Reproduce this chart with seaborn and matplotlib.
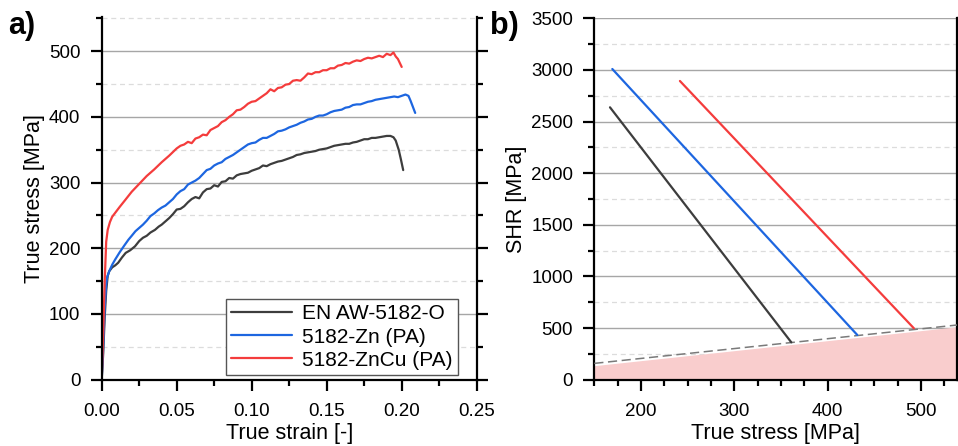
import numpy as np
import pandas as pd
import matplotlib
matplotlib.use("Agg")
import matplotlib.pyplot as plt
import seaborn as sns
from matplotlib.ticker import MultipleLocator

# ---------------- data ----------------
labels = ["EN AW-5182-O", "5182-Zn (PA)", "5182-ZnCu (PA)"]
colors = ["#3d3d3d", "#1d66e0", "#f43c3c"]

strain_o = [0, 0.001, 0.002, 0.003, 0.004, 0.005, 0.007, 0.009, 0.011, 0.0135, 0.016, 0.019, 0.0222,
            0.025, 0.0275, 0.030, 0.0325, 0.0355, 0.038, 0.040, 0.0425, 0.045, 0.0475, 0.050, 0.0525,
            0.055, 0.0575, 0.060, 0.0625, 0.065, 0.0675, 0.070, 0.0725, 0.075, 0.0775, 0.080, 0.0825,
            0.085, 0.0875, 0.090, 0.0925, 0.095, 0.0975, 0.100, 0.1025, 0.105, 0.1075, 0.110, 0.1125,
            0.115, 0.1175, 0.120, 0.1225, 0.125, 0.1275, 0.130, 0.1325, 0.135, 0.1375, 0.140, 0.1425,
            0.145, 0.1475, 0.150, 0.1525, 0.155, 0.1575, 0.160, 0.1625, 0.165, 0.1675, 0.170, 0.1725,
            0.175, 0.1775, 0.180, 0.1825, 0.185, 0.1875, 0.190, 0.1925, 0.1945, 0.196, 0.198, 0.1995, 0.201]
stress_o = [0, 40, 95, 135, 158, 165, 171, 174, 178, 186, 193, 197, 203,
            211, 216, 219, 224, 228, 233, 236, 241, 246, 252, 259, 260,
            264, 270, 275, 278, 276, 285, 290, 291, 296, 294, 301, 302,
            307, 306, 311, 313, 314, 315, 318, 320, 322, 326, 325, 328,
            330, 332, 333, 335, 337, 339, 342, 343, 345, 346, 347, 348,
            350, 351, 352, 354, 356, 357, 358, 359, 359, 361, 362, 364,
            366, 366, 368, 368, 369, 370, 371, 371, 369, 364, 350, 335, 319]

strain_zn = [0, 0.001, 0.002, 0.003, 0.0035, 0.005, 0.007, 0.009, 0.012, 0.015, 0.0178, 0.020, 0.0225,
             0.025, 0.0275, 0.030, 0.0325, 0.035, 0.0375, 0.040, 0.0425, 0.045, 0.0475, 0.050, 0.0525,
             0.055, 0.0575, 0.060, 0.0625, 0.065, 0.0675, 0.070, 0.0725, 0.075, 0.0775, 0.080, 0.0825,
             0.085, 0.0875, 0.090, 0.0925, 0.095, 0.0975, 0.100, 0.1025, 0.105, 0.1075, 0.110, 0.1125,
             0.115, 0.1175, 0.120, 0.1225, 0.125, 0.1275, 0.130, 0.1325, 0.135, 0.1375, 0.140, 0.1425,
             0.145, 0.1475, 0.150, 0.1525, 0.155, 0.1575, 0.160, 0.1625, 0.165, 0.1675, 0.170, 0.1725,
             0.175, 0.1775, 0.180, 0.1825, 0.185, 0.1875, 0.190, 0.1925, 0.195, 0.1975, 0.200, 0.2025,
             0.2045, 0.206, 0.2075, 0.209]
stress_zn = [0, 50, 110, 145, 155, 165, 175, 183, 194, 204, 213, 219, 226,
             231, 236, 242, 249, 253, 258, 262, 265, 270, 275, 282, 287,
             290, 297, 300, 303, 307, 313, 319, 321, 326, 329, 331, 336,
             339, 342, 346, 350, 354, 358, 360, 361, 365, 368, 368, 371,
             374, 378, 379, 381, 384, 386, 388, 391, 393, 396, 397, 400,
             402, 402, 404, 407, 409, 410, 411, 414, 415, 418, 419, 419,
             421, 423, 424, 426, 427, 428, 429, 430, 431, 430, 432, 434,
             432, 424, 415, 406]

strain_zncu = [0, 0.001, 0.002, 0.003, 0.004, 0.0055, 0.007, 0.009, 0.012, 0.0155, 0.020, 0.025, 0.030,
               0.035, 0.040, 0.045, 0.0500, 0.0525, 0.0550, 0.0575, 0.0600, 0.0625, 0.0650, 0.0675,
               0.0700, 0.0725, 0.0750, 0.0775, 0.0800, 0.0825, 0.0850, 0.0875, 0.0900, 0.0925, 0.0950,
               0.0975, 0.1000, 0.1025, 0.1050, 0.1075, 0.1100, 0.1125, 0.1150, 0.1175, 0.1200, 0.1225,
               0.1250, 0.1275, 0.1300, 0.1325, 0.1350, 0.1375, 0.1400, 0.1425, 0.1450, 0.1475, 0.1500,
               0.1525, 0.1550, 0.1575, 0.1600, 0.1625, 0.1650, 0.1675, 0.1700, 0.1725, 0.1750, 0.1775,
               0.1800, 0.1825, 0.1850, 0.1875, 0.1900, 0.1925, 0.1945, 0.1960, 0.1975, 0.2000]
stress_zncu = [0, 70, 150, 210, 228, 240, 248, 254, 263, 273, 286, 298, 310,
               320, 331, 341, 352, 356, 358, 362, 360, 367, 369, 373,
               372, 380, 383, 386, 392, 395, 400, 404, 410, 411, 415,
               420, 423, 424, 428, 432, 436, 442, 439, 444, 445, 449,
               450, 455, 456, 455, 460, 466, 465, 468, 468, 471, 471,
               474, 474, 478, 479, 482, 481, 484, 486, 485, 488, 490,
               489, 491, 493, 491, 496, 494, 498, 492, 488, 476]

# SHR vs true stress (start / end of each fitted line)
shr_stress = [[166.8, 361.0], [169.3, 431.7], [241.7, 492.3]]
shr_values = [[2638, 362], [3009, 433], [2893, 498]]
# Considere limit (dashed) and shaded region beneath it
limit_x = [150, 540]
limit_y = [158, 531]
fill_top = [136, 514]

# ---------------- style ----------------
sns.set_style("ticks")
plt.rcParams["font.family"] = ["Liberation Sans", "DejaVu Sans"]
plt.rcParams["axes.linewidth"] = 1.5
for k in ["text.color", "axes.labelcolor", "xtick.color", "ytick.color", "axes.edgecolor"]:
    plt.rcParams[k] = "black"

W, H = 958, 446
fig = plt.figure(figsize=(W / 100, H / 100), dpi=100)

def px_axes(l, r, t, b):
    return fig.add_axes([l / W, 1 - b / H, (r - l) / W, (b - t) / H])

axA = px_axes(101.7, 476.7, 17.0, 379.7)
axB = px_axes(594.3, 957.3, 18.3, 379.7)

def style_axes(ax):
    ax.spines["top"].set_visible(False)
    for s in ["left", "right", "bottom"]:
        ax.spines[s].set_color("black")
        ax.spines[s].set_linewidth(1.6)
    ax.tick_params(which="major", direction="out", length=7.8, width=1.6, labelsize=13.5,
                   colors="black", labelcolor="black", right=True, labelright=False, top=False)
    ax.tick_params(which="minor", direction="out", length=4.2, width=1.6, right=True, top=False)
    ax.tick_params(axis="x", which="major", pad=9)
    ax.tick_params(axis="y", which="major", pad=7.5)
    ax.grid(which="major", axis="y", color="#a6a6a6", lw=1.0, ls="-")
    ax.grid(which="minor", axis="y", color="#dcdcdc", lw=0.9, ls=(0, (4, 3)))
    ax.grid(which="both", axis="x", visible=False)
    ax.set_axisbelow(True)

# ---------------- panel a ----------------
frames = []
for lab, s, t in zip(labels, [strain_o, strain_zn, strain_zncu], [stress_o, stress_zn, stress_zncu]):
    frames.append(pd.DataFrame({"strain": s, "stress": t, "alloy": lab}))
dfA = pd.concat(frames, ignore_index=True)
sns.lineplot(data=dfA, x="strain", y="stress", hue="alloy", hue_order=labels,
             palette=colors, sort=False, estimator=None, lw=1.6, ax=axA)
axA.set_xlim(0, 0.25)
axA.set_ylim(0, 552)
axA.xaxis.set_major_locator(MultipleLocator(0.05))
axA.xaxis.set_minor_locator(MultipleLocator(0.025))
axA.yaxis.set_major_locator(MultipleLocator(100))
axA.yaxis.set_minor_locator(MultipleLocator(50))
axA.xaxis.set_major_formatter(matplotlib.ticker.FormatStrFormatter("%.2f"))
style_axes(axA)
axA.set_xlabel("True strain [-]", fontsize=15.5, labelpad=2, color="black")
axA.set_ylabel("True stress [MPa]", fontsize=15.5, labelpad=3, color="black")
leg = axA.legend(loc="lower right", bbox_to_anchor=(0.95, 0.013), fontsize=15,
                 frameon=True, fancybox=False, edgecolor="#555555", framealpha=1,
                 handlelength=2.9, handletextpad=0.5, borderpad=0.25, labelspacing=0.2,
                 borderaxespad=0)
leg.get_frame().set_linewidth(1.0)
for lh in leg.get_lines():
    lh.set_linewidth(1.6)
for t in leg.get_texts():
    t.set_color("black")

# ---------------- panel b ----------------
axB.fill_between(limit_x, fill_top, 0, color="#f9cdcd", lw=0, zorder=1)
sns.lineplot(x=limit_x, y=limit_y, color="#7a7a7a", lw=1.1, ls=(0, (6, 3)), ax=axB, zorder=3)
for xs, ys, c in zip(shr_stress, shr_values, colors):
    sns.lineplot(x=xs, y=ys, color=c, lw=1.6, ax=axB, zorder=4)
axB.set_xlim(150, 538.8)
axB.set_ylim(0, 3500)
axB.xaxis.set_major_locator(MultipleLocator(100))
axB.xaxis.set_minor_locator(MultipleLocator(25))
axB.yaxis.set_major_locator(MultipleLocator(500))
axB.yaxis.set_minor_locator(MultipleLocator(250))
style_axes(axB)
axB.set_xlabel("True stress [MPa]", fontsize=15.5, labelpad=2, color="black")
axB.set_ylabel("SHR [MPa]", fontsize=15.5, labelpad=3, color="black")

fig.text(8 / W, 1 - 26 / H, "a)", fontsize=22, fontweight="bold", va="center", ha="left", color="black")
fig.text(490 / W, 1 - 26 / H, "b)", fontsize=22, fontweight="bold", va="center", ha="left", color="black")

fig.savefig("out.png", dpi=100)
